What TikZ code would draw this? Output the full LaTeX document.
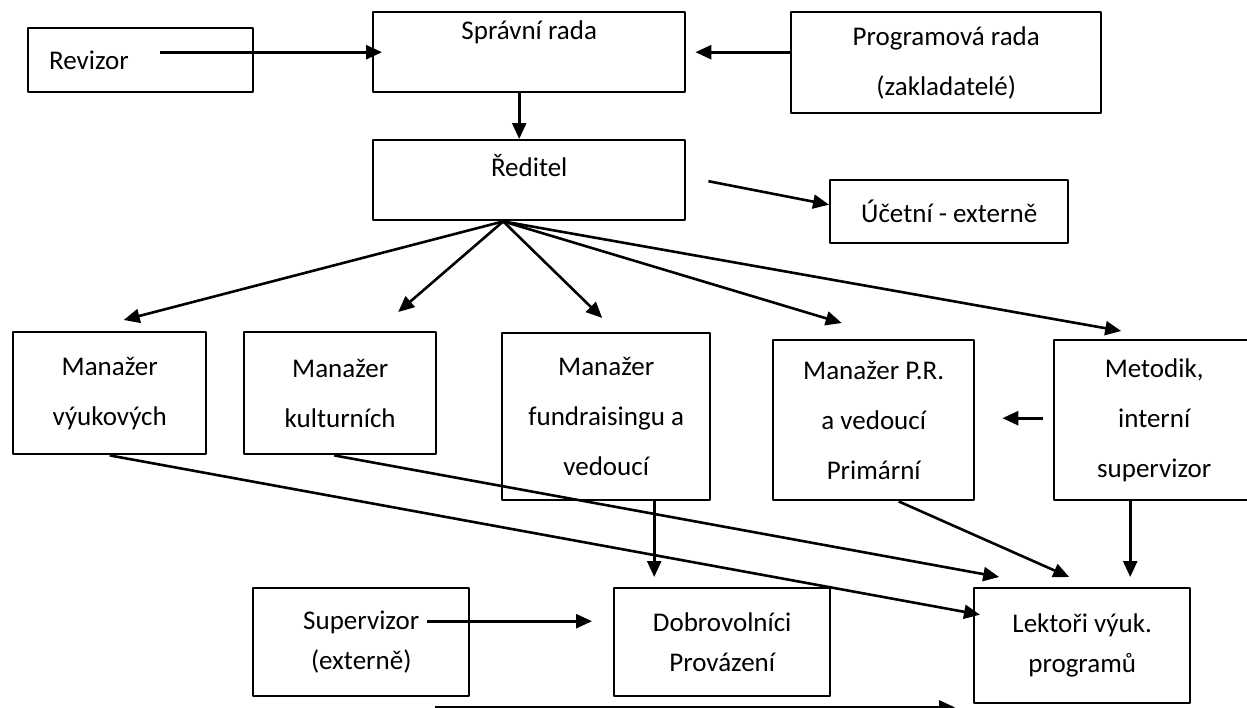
\documentclass[tikz,border=0pt]{standalone}
\usepackage{fontspec}
\setmainfont{Carlito}
\usetikzlibrary{arrows.meta,positioning,calc}
\tikzset{
  box/.style={draw, rectangle, line width=2.4pt, anchor=north west, inner sep=0pt, align=center, font=\fontsize{27}{50}\selectfont},
  lowbox/.style={box, font=\fontsize{27}{40}\selectfont},
  arr/.style={-{Triangle[length=16pt,width=14pt]}, line width=2.6pt}
}
\begin{document}
\begin{tikzpicture}[x=1pt,y=-1pt,line join=round]
\useasboundingbox (0,0) rectangle (1247,707);
\node[box, minimum width=225pt, minimum height=64pt, text width=183pt, align=left] (revizor) at (27,27) {Revizor};
\node[box, minimum width=312pt, minimum height=80pt, text height=18pt, text depth=44pt] (spravni) at (372,11) {Správní rada};
\node[box, minimum width=310pt, minimum height=101pt] (programova) at (790,11) {Programová rada\\(zakladatelé)};
\node[box, minimum width=312pt, minimum height=80pt, text height=18pt, text depth=26pt] (reditel) at (372,139) {Ředitel};
\node[box, minimum width=238pt, minimum height=63pt] (ucetni) at (829,179) {Účetní - externě};
\node[box, minimum width=193pt, minimum height=122pt] (vyuk) at (12,331) {Manažer\\výukových};
\node[box, minimum width=192pt, minimum height=122pt] (kult) at (243,331) {Manažer\\kulturních};
\node[box, minimum width=208pt, minimum height=167pt] (fund) at (501,332) {Manažer\\fundraisingu a\\vedoucí};
\node[box, minimum width=201pt, minimum height=160pt] (pr) at (772,339) {Manažer P.R.\\a vedoucí\\Primární};
\node[box, minimum width=200pt, minimum height=160pt] (metodik) at (1053,339) {Metodik,\\interní\\supervizor};
\node[lowbox, minimum width=216pt, minimum height=108pt] (superv) at (252,587) {Supervizor\\(externě)};
\node[lowbox, minimum width=216pt, minimum height=108pt] (dobr) at (613,587) {Dobrovolníci\\Provázení};
\node[lowbox, minimum width=216pt, minimum height=115pt] (lektori) at (973,587) {Lektoři výuk.\\programů};
\coordinate (revizor-out) at ([xshift=-94pt]revizor.east);
\draw[arr] (revizor-out |- spravni.west) -- ([xshift=10pt]spravni.west);
\draw[arr] (programova.west |- spravni.east) -- ([xshift=9pt]spravni.east);
\draw[arr] ([xshift=-10pt]spravni.south) -- ([xshift=-10pt]reditel.north);
\draw[arr] ([shift={(22,1)}]reditel.east) -- ([yshift=7pt]ucetni.west);
\draw[arr] ([xshift=-26pt]reditel.south) -- ([shift={(14,-11)}]vyuk.north);
\draw[arr] ([xshift=-26pt]reditel.south) -- ([shift={(58,-19)}]kult.north);
\draw[arr] ([xshift=-26pt]reditel.south) -- ([shift={(-4,-14)}]fund.north);
\draw[arr] ([xshift=-26pt]reditel.south) -- ([shift={(-32,-16)}]pr.north);
\draw[arr] ([xshift=-26pt]reditel.south) -- ([shift={(-33,-8)}]metodik.north);
\draw[arr] ([shift={(-10,-2)}]metodik.west) -- ([shift={(27,-2)}]pr.east);
\draw[arr] ([xshift=-24pt]metodik.south) -- ([shift={(48,-10)}]lektori.north);
\draw[arr] ([xshift=25pt]pr.south) -- ([shift={(-13,-10)}]lektori.north);
\draw[arr] ([xshift=-6pt]kult.south) -- ([shift={(-83,-10)}]lektori.north);
\draw[arr] (vyuk.south) -- ([shift={(7,-31)}]lektori.west);
\draw[arr] ([xshift=48pt]fund.south) -- ([shift={(-68,-10)}]dobr.north);
\draw[arr] ([shift={(-43,-21)}]superv.east) -- ([shift={(-21,-21)}]dobr.west);
\draw[arr] ([shift={(74,10)}]superv.south) -- ([shift={(-18,3)}]lektori.south west);
\end{tikzpicture}
\end{document}
